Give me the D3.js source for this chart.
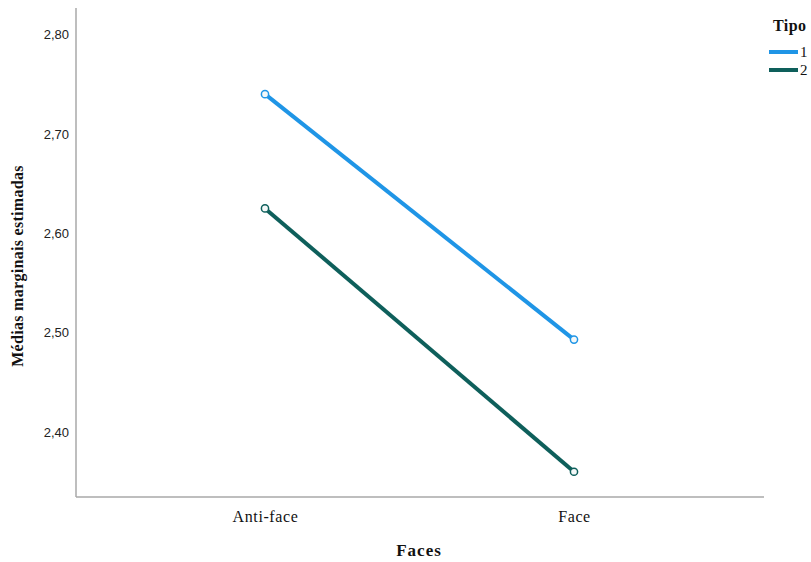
<!DOCTYPE html>
<html>
<head>
<meta charset="utf-8">
<script src="https://cdn.jsdelivr.net/npm/d3@7"></script>
<style>
html,body{margin:0;padding:0;background:#fff;}
svg{display:block;}
</style>
</head>
<body>
<svg id="chart" width="811" height="562"></svg>
<script>
const categories = ["Anti-face", "Face"];
const seriesNames = ["1", "2"];
const series1 = [2.740, 2.493];
const series2 = [2.625, 2.360];
const yTicks = [2.40, 2.50, 2.60, 2.70, 2.80];
const colors = ["#1f95e6", "#0e5f5b"];
const xTitle = "Faces";
const yTitle = "Médias marginais estimadas";
const legendTitle = "Tipo";

(function () {
const svg = d3.select("#chart");
const mLeft = 76, mRight = 764, mTop = 8, mBottom = 497;

const x = d3.scalePoint().domain(categories).range([265, 574]);
const y = d3.scaleLinear().domain([2.40, 2.80]).range([432, 34.5]);

// axes
const yAxis = d3.axisLeft(y).tickValues(yTicks).tickSize(0).tickPadding(7)
  .tickFormat(d => d3.format(".2f")(d).replace(".", ","));
const gy = svg.append("g").attr("transform", `translate(${mLeft},0)`).call(yAxis);
gy.select(".domain").remove();
gy.selectAll("text").attr("font-family", "Liberation Sans, Arial, sans-serif")
  .attr("font-size", 13).attr("fill", "#222");

const xAxis = d3.axisBottom(x).tickSize(0).tickPadding(14);
const gx = svg.append("g").attr("transform", `translate(0,${mBottom})`).call(xAxis);
gx.select(".domain").remove();
gx.selectAll("text").attr("font-family", "Liberation Serif, Times New Roman, serif")
  .attr("font-size", 16).attr("letter-spacing", 0.6).attr("fill", "#111");

// axis lines
svg.append("line").attr("x1", mLeft).attr("x2", mLeft).attr("y1", mTop).attr("y2", mBottom)
  .attr("stroke", "#a9a9a9").attr("stroke-width", 1.5);
svg.append("line").attr("x1", mLeft).attr("x2", mRight).attr("y1", mBottom).attr("y2", mBottom)
  .attr("stroke", "#a9a9a9").attr("stroke-width", 1.5);

// lines
const data = [series1, series2];
const line = d3.line().x((d, i) => x(categories[i])).y(d => y(d));
data.forEach((s, k) => {
  svg.append("path").datum(s).attr("d", line).attr("fill", "none")
    .attr("stroke", colors[k]).attr("stroke-width", 4);
  svg.selectAll(null).data(s).enter().append("circle")
    .attr("cx", (d, i) => x(categories[i])).attr("cy", d => y(d))
    .attr("r", 3.6).attr("fill", "#f4f8f8").attr("stroke", colors[k]).attr("stroke-width", 1.5);
});

// titles
svg.append("text").attr("x", 419).attr("y", 556).attr("text-anchor", "middle")
  .attr("font-family", "Liberation Serif, Times New Roman, serif").attr("font-weight", "bold")
  .attr("font-size", 17).attr("letter-spacing", 1).attr("fill", "#111").text(xTitle);
svg.append("text").attr("transform", "translate(23,266) rotate(-90)").attr("text-anchor", "middle")
  .attr("font-family", "Liberation Serif, Times New Roman, serif").attr("font-weight", "bold")
  .attr("font-size", 16).attr("letter-spacing", 0.3).attr("fill", "#111").text(yTitle);

// legend
svg.append("text").attr("x", 773).attr("y", 31)
  .attr("font-family", "Liberation Serif, Times New Roman, serif").attr("font-weight", "bold")
  .attr("font-size", 16).attr("letter-spacing", 0.4).attr("fill", "#111").text(legendTitle);
seriesNames.forEach((n, k) => {
  const ly = 52 + k * 18;
  svg.append("line").attr("x1", 769).attr("x2", 798).attr("y1", ly).attr("y2", ly)
    .attr("stroke", colors[k]).attr("stroke-width", 4);
  svg.append("text").attr("x", 800).attr("y", ly + 5)
    .attr("font-family", "Liberation Serif, Times New Roman, serif")
    .attr("font-size", 15).attr("fill", "#111").text(n);
});
})();
</script>
</body>
</html>
